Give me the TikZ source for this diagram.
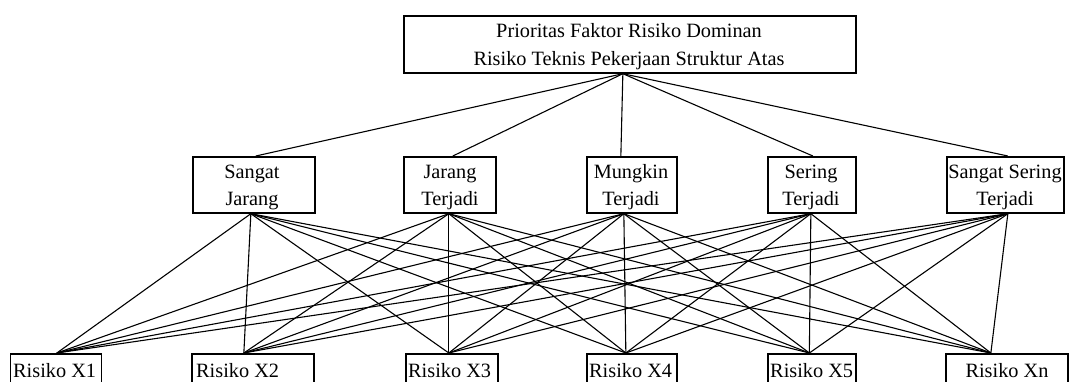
\documentclass[tikz,border=0pt]{standalone}
\usepackage{fontspec}
\setmainfont{Liberation Serif}
\begin{document}
\begin{tikzpicture}[x=1pt,y=-1pt,
  box/.style={draw=black,line width=1.7pt,rectangle,inner sep=0pt,anchor=north west},
  txt/.style={inner sep=0pt,anchor=base,font=\fontsize{20.3}{26}\selectfont},
  ltxt/.style={txt,anchor=base west},
  con/.style={line width=1.1pt}]
\useasboundingbox (0,0) rectangle (1070,381);
\clip (0,0) rectangle (1070,381);
% top box
\node[box,minimum width=452pt,minimum height=57pt] (top) at (403,15) {};
\node[txt] (t1) at (629,37) {Prioritas Faktor Risiko Dominan};
\node[txt] (t2) at (629,65) {Risiko Teknis Pekerjaan Struktur Atas};
% middle boxes
\node[box,minimum width=122pt,minimum height=56pt] (sj) at (192,156) {};
\node[box,minimum width=92pt,minimum height=56pt] (jt) at (403,156) {};
\node[box,minimum width=90pt,minimum height=56pt] (mt) at (586,156) {};
\node[box,minimum width=88pt,minimum height=56pt] (st) at (767,156) {};
\node[box,minimum width=117pt,minimum height=56pt] (sst) at (946,156) {};
\node[txt] (sj1) at (252,178.5) {Sangat};
\node[txt] (sj2) at (252,205) {Jarang};
\node[txt] (jt1) at (450,178.5) {Jarang};
\node[txt] (jt2) at (450,205) {Terjadi};
\node[txt] (mt1) at (631,178.5) {Mungkin};
\node[txt] (mt2) at (631,205) {Terjadi};
\node[txt] (st1) at (811,178.5) {Sering};
\node[txt] (st2) at (811,205) {Terjadi};
\node[txt] (sst1) at (1005,178.5) {Sangat Sering};
\node[txt] (sst2) at (1005,205) {Terjadi};
% bottom boxes
\node[box,minimum width=91pt,minimum height=45pt] (x1) at (9.5,353) {};
\node[box,minimum width=122pt,minimum height=45pt] (x2) at (191,353) {};
\node[box,minimum width=92pt,minimum height=45pt] (x3) at (405,353) {};
\node[box,minimum width=90pt,minimum height=45pt] (x4) at (586,353) {};
\node[box,minimum width=88pt,minimum height=45pt] (x5) at (767,353) {};
\node[box,minimum width=122pt,minimum height=45pt] (xn) at (945,353) {};
\node[ltxt] (x1t) at (13,377) {Risiko X1};
\node[ltxt] (x2t) at (196,377) {Risiko X2};
\node[ltxt] (x3t) at (408,377) {Risiko X3};
\node[ltxt] (x4t) at (589,377) {Risiko X4};
\node[ltxt] (x5t) at (770,377) {Risiko X5};
\node[txt] (xnt) at (1007,377) {Risiko Xn};
% top connectors
\coordinate (tp) at ([xshift=-7pt]top.south);
\draw[con] (tp) -- ([xshift=2pt]sj.north);
\draw[con] (tp) -- ([xshift=3pt]jt.north);
\draw[con] (tp) -- ([xshift=-11pt]mt.north);
\draw[con] (tp) -- ([xshift=1pt]st.north);
\draw[con] (tp) -- ([xshift=2.5pt]sst.north);
% middle attach points
\coordinate (msj) at ([xshift=-3pt]sj.south);
\coordinate (mjt) at ([xshift=-1pt]jt.south);
\coordinate (mmt) at ([xshift=-8pt]mt.south);
\coordinate (mst) at ([xshift=-1pt]st.south);
\coordinate (msst) at ([xshift=2.5pt]sst.south);
% bottom attach points
\coordinate (b1) at ([xshift=1pt]x1.north);
\coordinate (b2) at ([xshift=-9pt]x2.north);
\coordinate (b3) at ([xshift=-3pt]x3.north);
\coordinate (b4) at ([xshift=-6pt]x4.north);
\coordinate (b5) at ([xshift=-2.5pt]x5.north);
\coordinate (bn) at ([xshift=-16pt]xn.north);
\foreach \m in {msj,mjt,mmt,mst,msst}{
  \foreach \b in {b1,b2,b3,b4,b5,bn}{
    \draw[con] (\m) -- (\b);
  }
}
\end{tikzpicture}
\end{document}
